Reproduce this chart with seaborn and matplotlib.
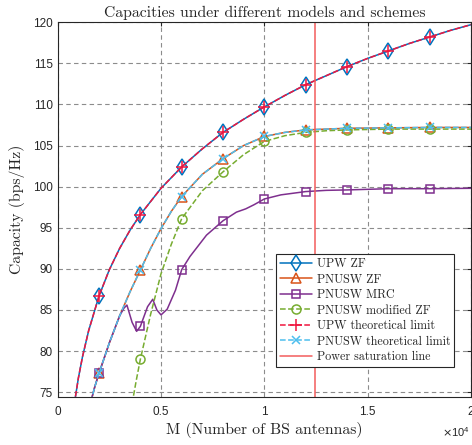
import matplotlib
matplotlib.use("Agg")
import matplotlib.pyplot as plt
import seaborn as sns

# Number of BS antennas where markers are drawn
marker_M = [2000, 4000, 6000, 8000, 10000, 12000, 14000, 16000, 18000]

# UPW ZF (and its theoretical limit, which lies on top of it)
upw_M = [800, 1000, 1200, 1500, 2000, 2500, 3000, 3500, 4000, 5000, 6000, 7000, 8000,
         9000, 10000, 11000, 12000, 13000, 14000, 15000, 16000, 17000, 18000, 19000, 20000]
upw_zf = [73.5, 76.7, 79.3, 82.5, 86.7, 89.9, 92.5, 94.7, 96.6, 99.8, 102.4, 104.6, 106.6,
          108.2, 109.7, 111.1, 112.4, 113.5, 114.6, 115.6, 116.5, 117.4, 118.2, 119.0, 119.7]
upw_limit = list(upw_zf)

# PNUSW ZF (and its theoretical limit)
pnusw_M = [1600, 1800, 2000, 2500, 3000, 3500, 4000, 4500, 5000, 5500, 6000, 7000, 8000,
           9000, 10000, 11000, 12000, 13000, 14000, 16000, 18000, 20000]
pnusw_zf = [73.8, 75.7, 77.3, 81.0, 84.3, 87.2, 89.85, 92.5, 94.9, 97.0, 98.8, 101.5, 103.4,
            105.0, 106.1, 106.6, 106.9, 107.0, 107.1, 107.15, 107.2, 107.2]
pnusw_limit = list(pnusw_zf)

# PNUSW MRC
mrc_M = [1600, 1800, 2000, 2500, 3000, 3200, 3350, 3600, 3820, 4000, 4350, 4600, 4800, 5000,
         5300, 5700, 6000, 6400, 7200, 8000, 8650, 9100, 9500, 10000, 10800, 12000, 13000,
         14000, 16000, 18000, 20000]
mrc = [73.8, 75.7, 77.3, 81.0, 84.3, 85.2, 85.6, 83.5, 82.4, 83.0, 85.4, 86.3, 85.0, 84.4,
       85.1, 87.4, 89.9, 91.5, 94.1, 95.85, 96.9, 97.3, 97.8, 98.5, 99.0, 99.4, 99.55,
       99.6, 99.75, 99.75, 99.8]

# PNUSW modified ZF
mod_M = [3600, 3800, 4000, 4500, 5000, 5500, 6000, 7000, 8000, 9000, 10000, 11000, 12000,
         13000, 14000, 16000, 18000, 20000]
mod_zf = [73.6, 76.4, 79.0, 84.5, 89.4, 93.0, 96.1, 99.5, 101.8, 103.9, 105.5, 106.2, 106.6,
          106.8, 106.9, 107.0, 107.0, 107.0]

saturation_M = 12470

xticks = [0, 5000, 10000, 15000, 20000]
xtick_labels = ["0", "0.5", "1", "1.5", "2"]
yticks = [75, 80, 85, 90, 95, 100, 105, 110, 115, 120]

sns.set_style("white")
plt.rcParams["font.family"] = ["Liberation Sans", "DejaVu Sans"]
plt.rcParams["axes.unicode_minus"] = False

SERIF = "cmr10"


def marks(ms):
    return [i for i, m in enumerate(ms) if m in marker_M]


fig = plt.figure(figsize=(4.72, 4.45), dpi=100)
ax = fig.add_axes([0.1222, 0.1085, 0.8757, 0.8416])

dash = (4, 2.5)
series = [
    (upw_M, upw_zf, "UPW ZF", "#0072BD", "-", "d", 8.5),
    (pnusw_M, pnusw_zf, "PNUSW ZF", "#D95319", "-", "^", 7.5),
    (mrc_M, mrc, "PNUSW MRC", "#7E2F8E", "-", "s", 5.5),
    (mod_M, mod_zf, "PNUSW modified ZF", "#77AC30", "--", "o", 6.5),
    (upw_M, upw_limit, "UPW theoretical limit", "#F0163F", "--", "+", 8),
    (pnusw_M, pnusw_limit, "PNUSW theoretical limit", "#4DBEEE", "--", "x", 5.5),
]

for xs, ys, label, color, ls, mk, msz in series:
    kw = dict(linestyle=ls)
    if ls == "--":
        kw["dashes"] = dash
    sns.lineplot(x=xs, y=ys, ax=ax, label=label, color=color, linewidth=1.1,
                 marker=mk, markersize=msz, markevery=marks(xs),
                 markerfacecolor="none", markeredgecolor=color,
                 markeredgewidth=1.1, **kw)

ax.axvline(saturation_M, color="#F25C5C", linewidth=1.1, label="Power saturation line")

ax.set_xlim(0, 20000)
ax.set_ylim(74.45, 120)
ax.set_xticks(xticks)
ax.set_xticklabels(xtick_labels)
ax.set_yticks(yticks)
ax.tick_params(direction="in", length=3, labelsize=8.5, colors="#262626",
               top=True, right=True)
ax.tick_params(axis="x", pad=7)
ax.tick_params(axis="y", pad=3.5)

ax.grid(True, color="#8c8c8c", linestyle=(0, (4, 3)), linewidth=0.8)
for s in ax.spines.values():
    s.set_color("#262626")
    s.set_linewidth(0.8)

ax.set_title("Capacities under different models and schemes", family=SERIF,
             fontsize=11.3, pad=4)
ax.set_xlabel("M (Number of BS antennas)", family=SERIF, fontsize=11.3)
ax.set_ylabel("Capacity (bps/Hz)", family=SERIF, fontsize=11.3)
ax.xaxis.set_label_coords(0.5, -0.088)
ax.xaxis.label.set_va("center")
ax.yaxis.set_label_coords(-0.098, 0.5)
ax.yaxis.label.set_va("center")

ax.text(0.998, -0.094, r"$\times\mathregular{10^{4}}$", transform=ax.transAxes,
        fontsize=8, ha="right", va="center", color="#262626")

leg = ax.legend(loc="lower right", bbox_to_anchor=(0.96, 0.0785),
                prop={"family": SERIF, "size": 8.7}, frameon=True, fancybox=False,
                framealpha=1, edgecolor="#262626", handlelength=2.6,
                borderpad=0.35, labelspacing=0.28, handletextpad=0.4,
                borderaxespad=0)
leg.get_frame().set_linewidth(0.8)

fig.savefig("out.png", dpi=100)
plt.close(fig)
